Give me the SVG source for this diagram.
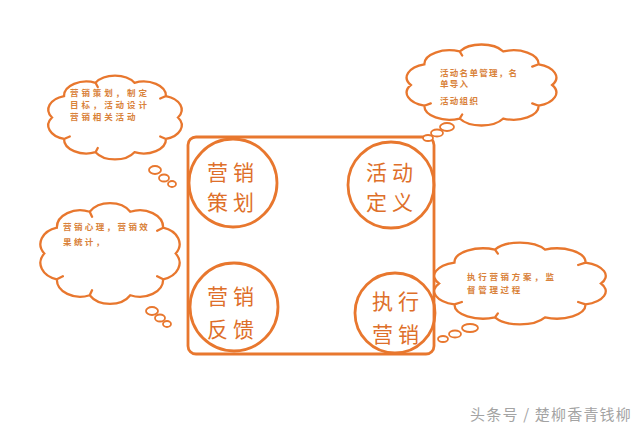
<svg xmlns="http://www.w3.org/2000/svg" xmlns:xlink="http://www.w3.org/1999/xlink" width="640" height="431" viewBox="0 0 640 431">
<style>
.ln{fill:none;stroke:#e8772e;stroke-width:2.8}
.cl{fill:#fff;stroke:#e8772e;stroke-width:2.3;vector-effect:non-scaling-stroke;stroke-linecap:round}
.bb{fill:#fff;stroke:#e8772e;stroke-width:1.8}
.big{font-family:"Noto Sans CJK SC","Noto Sans CJK JP",sans-serif;font-size:21px;fill:#de6f2a;letter-spacing:5px;text-anchor:middle}
.sm{font-family:"Noto Sans CJK SC","Noto Sans CJK JP",sans-serif;font-size:8.5px;fill:#d9823a;font-weight:bold}
.wm{font-family:"Noto Sans CJK SC","Noto Sans CJK JP",sans-serif;font-size:15px;fill:#a3a3a3;letter-spacing:1.2px}
</style>
<defs>
<path id="cloud" class="cl" d="M95,50 A16,16 0 0 1 86.4,74.1 A16,16 0 0 1 63.9,89 A16,16 0 0 1 36.1,89 A16,16 0 0 1 13.6,74.1 A16,16 0 0 1 5,50 A16,16 0 0 1 13.6,25.9 A16,16 0 0 1 36.1,11 A16,16 0 0 1 63.9,11 A16,16 0 0 1 86.4,25.9 A16,16 0 0 1 95,50 Z M86.4,74.1 L82.3,71.3 M13.6,74.1 L17.7,71.3 M36.1,11 L37.7,15.7 M86.4,25.9 L82.3,28.7 M36.1,89 L37.7,84.3"/>
</defs>
<rect width="640" height="431" fill="#fff"/>

<g id="frame">
<rect class="ln" x="188" y="137" width="246" height="217" rx="8"/>
</g>

<g id="cloud1">
<use xlink:href="#cloud" transform="translate(45,73) scale(1.4,0.89)"/>
<ellipse class="bb" cx="155" cy="170" rx="6" ry="4"/>
<ellipse class="bb" cx="164" cy="178" rx="5" ry="3.5"/>
<ellipse class="bb" cx="172" cy="184" rx="4" ry="3"/>
<text class="sm" x="70" y="96" letter-spacing="2.9">营销策划，制定</text>
<text class="sm" x="70" y="108" letter-spacing="2.9">目标，活动设计</text>
<text class="sm" x="70" y="120" letter-spacing="2.9">营销相关活动</text>
</g>

<g id="cloud2">
<use xlink:href="#cloud" transform="translate(403,42) scale(1.57,0.86)"/>
<ellipse class="bb" cx="447" cy="127" rx="7" ry="4"/>
<ellipse class="bb" cx="437" cy="133" rx="6" ry="3.5"/>
<ellipse class="bb" cx="428" cy="138" rx="5" ry="3"/>
<text class="sm" x="440" y="76" letter-spacing="1.3">活动名单管理，名</text>
<text class="sm" x="440" y="87" letter-spacing="1.3">单导入</text>
<text class="sm" x="440" y="104" letter-spacing="1.3">活动组织</text>
</g>

<g id="cloud3">
<use xlink:href="#cloud" transform="translate(37,200) scale(1.46,1.07)"/>
<ellipse class="bb" cx="152" cy="311" rx="6" ry="4"/>
<ellipse class="bb" cx="160" cy="318" rx="5" ry="3.5"/>
<ellipse class="bb" cx="167" cy="324" rx="4" ry="3"/>
<text class="sm" x="63" y="230" letter-spacing="2.4">营销心理，营销效</text>
<text class="sm" x="63" y="245" letter-spacing="2.4">果统计，</text>
</g>

<g id="cloud4">
<use xlink:href="#cloud" transform="translate(430,240) scale(1.8,0.87)"/>
<ellipse class="bb" cx="470" cy="328" rx="8" ry="4"/>
<ellipse class="bb" cx="455" cy="334" rx="6" ry="3.5"/>
<ellipse class="bb" cx="443" cy="339" rx="5" ry="3"/>
<text class="sm" x="467" y="280" letter-spacing="2.7">执行营销方案，监</text>
<text class="sm" x="467" y="293" letter-spacing="2.7">督管理过程</text>
</g>

<g id="node-plan">
<circle class="ln" cx="233" cy="183" r="44"/>
<text class="big" x="233" y="180">营销</text>
<text class="big" x="233" y="210">策划</text>
</g>

<g id="node-define">
<circle class="ln" cx="391" cy="185" r="43"/>
<text class="big" x="392" y="180">活动</text>
<text class="big" x="392" y="210">定义</text>
</g>

<g id="node-feedback">
<circle class="ln" cx="234" cy="307" r="44"/>
<text class="big" x="233" y="304">营销</text>
<text class="big" x="233" y="337">反馈</text>
</g>

<g id="node-execute">
<circle class="ln" cx="395" cy="313" r="40"/>
<text class="big" x="398" y="309">执行</text>
<text class="big" x="398" y="342">营销</text>
</g>

<text class="wm" x="470" y="420">头条号 / 楚柳香青钱柳</text>
</svg>
